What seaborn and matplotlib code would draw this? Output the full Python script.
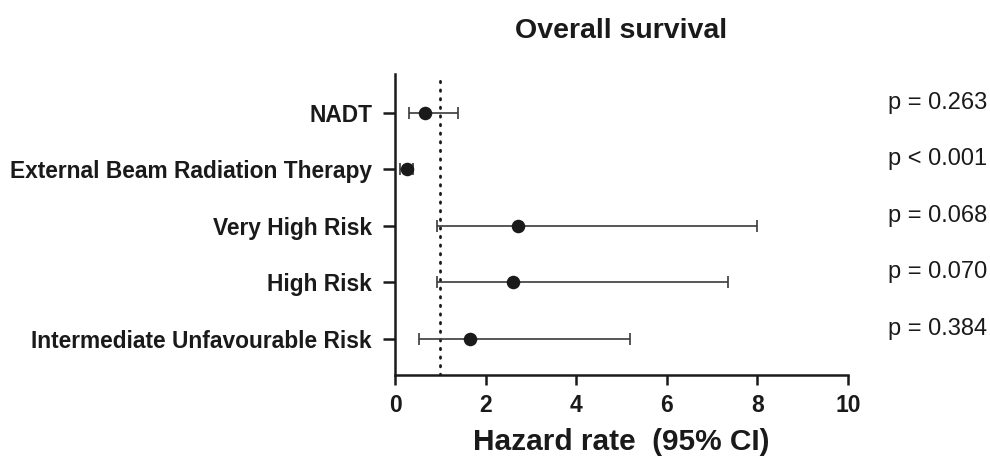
import numpy as np
import pandas as pd
import matplotlib
matplotlib.use("Agg")
import matplotlib.pyplot as plt
import matplotlib.transforms as mtransforms
import seaborn as sns

categories = ["NADT", "External Beam Radiation Therapy", "Very High Risk",
              "High Risk", "Intermediate Unfavourable Risk"]
hazard = [0.66, 0.26, 2.72, 2.60, 1.66]
ci_low = [0.32, 0.10, 0.93, 0.93, 0.54]
ci_high = [1.38, 0.40, 8.00, 7.36, 5.19]
p_labels = ["p = 0.263", "p < 0.001", "p = 0.068", "p = 0.070", "p = 0.384"]
x_ticks = [0, 2, 4, 6, 8, 10]

df = pd.DataFrame({"cat": categories, "hr": hazard, "lo": ci_low, "hi": ci_high})

sns.set_style("ticks")
plt.rcParams["font.family"] = ["Liberation Sans", "DejaVu Sans"]

fig = plt.figure(figsize=(9.9, 4.59), dpi=100)
ax = fig.add_axes([395 / 990, 1 - 375 / 459, (848 - 395) / 990, (375 - 74) / 459])

ypos = np.arange(len(categories))
ax.errorbar(df["hr"], ypos,
            xerr=[df["hr"] - df["lo"], df["hi"] - df["hr"]],
            fmt="none", ecolor="#3a3a3a", elinewidth=1.2, capsize=4, capthick=1.2,
            zorder=2)
sns.scatterplot(x=df["hr"], y=ypos, ax=ax, color="#1a1a1a", s=95,
                edgecolor="#1a1a1a", linewidth=0, zorder=3)

ax.axvline(1.0, color="#1a1a1a", linestyle=(0, (0.5, 2.6)), linewidth=2.0,
           dash_capstyle="round", zorder=1)

ax.set_xlim(0, 10)
ax.set_ylim(4.64, -0.685)
ax.set_xticks(x_ticks)
ax.set_xticklabels([str(t) for t in x_ticks], fontsize=16.5, fontweight="bold",
                   color="#1a1a1a")
ax.set_yticks(ypos)
ax.set_yticklabels(categories, fontsize=16.4, fontweight="bold", color="#1a1a1a")

for sp in ["top", "right"]:
    ax.spines[sp].set_visible(False)
for sp in ["left", "bottom"]:
    ax.spines[sp].set_linewidth(1.8)
    ax.spines[sp].set_color("#1a1a1a")
ax.tick_params(axis="y", length=8.5, width=1.8, pad=8, color="#1a1a1a")
ax.tick_params(axis="x", length=7.5, width=1.8, pad=6, color="#1a1a1a")

ax.set_xlabel("Hazard rate  (95% CI)", fontsize=21.5, fontweight="bold",
              labelpad=8, color="#1a1a1a")
ax.set_ylabel("")
ax.set_title("Overall survival", fontsize=20.5, fontweight="bold", pad=26,
             color="#1a1a1a")

trans = mtransforms.blended_transform_factory(fig.transFigure, ax.transData)
for i, lab in enumerate(p_labels):
    ax.text(888 / 990, ypos[i] - 0.18, lab, transform=trans, fontsize=17,
            ha="left", va="center", color="#1a1a1a")

fig.savefig("out.png", dpi=100)
